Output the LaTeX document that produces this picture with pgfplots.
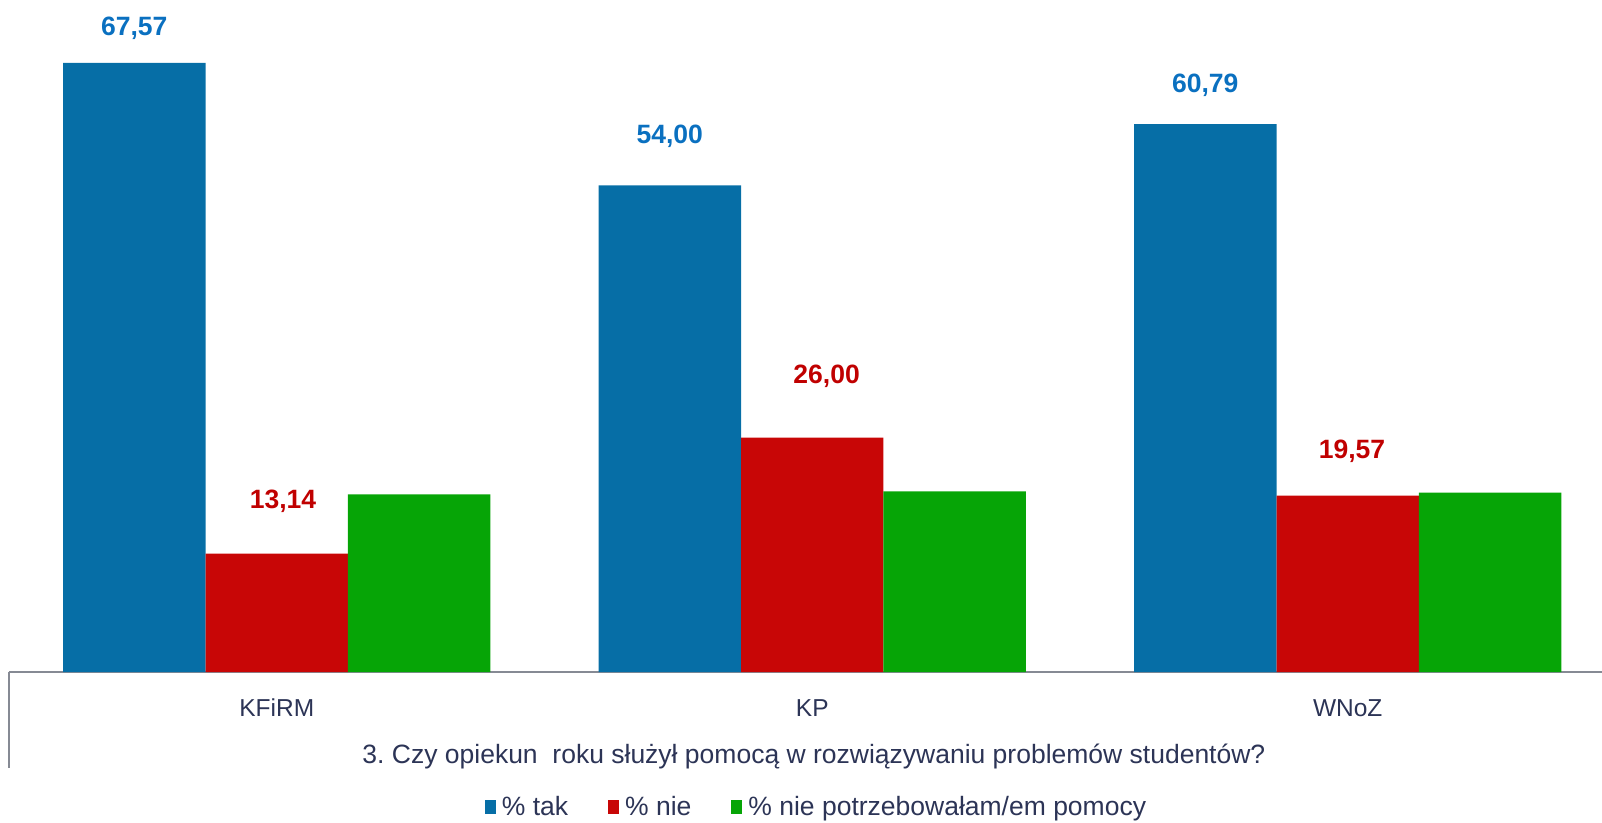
\documentclass[border=0pt]{standalone}
\usepackage{pgfplots}
\pgfplotsset{compat=1.18}
\usepackage{pgfplotstable}
\usepackage{fontspec}
\setmainfont{Liberation Sans}
\definecolor{barblue}{RGB}{6,110,166}
\definecolor{barred}{RGB}{200,6,6}
\definecolor{bargreen}{RGB}{6,165,6}
\definecolor{lblblue}{RGB}{10,112,192}
\definecolor{lblred}{RGB}{192,0,0}
\definecolor{txt}{RGB}{44,52,86}
\definecolor{axgray}{RGB}{134,138,148}

\pgfplotstableread{
x tak nie npp
0 67.57 13.14 19.71
1 54.00 26.00 20.05
2 60.79 19.57 19.89
}\datatable

\pgfplotstableread{
x y lab
-0.2661 70.66 67,57
0.7339 58.68 54,00
1.7339 64.34 60,79
}\bluelabels

\pgfplotstableread{
x y lab
0.0117 18.19 13,14
1.0268 32.06 26,00
2.0080 23.74 19,57
}\redlabels

\begin{document}
\frenchspacing
\begin{tikzpicture}
\path[use as bounding box] (0,0) rectangle (1602pt,822pt);
\begin{axis}[
  at={(9pt,150pt)}, anchor=south west,
  scale only axis, width=1593pt, height=672pt,
  xmin=-0.5, xmax=2.4748, ymin=0, ymax=74.56,
  clip=false,
  axis y line=none,
  axis x line*=bottom,
  x axis line style={draw=axgray, line width=2pt, -},
  xtick={0,1,2},
  xticklabels={KFiRM,KP,WNoZ},
  xtick style={draw=none},
  major tick length=0pt,
  xticklabel style={font=\fontsize{24.5}{28}\selectfont, text=txt, anchor=center, yshift=-36pt},
  ytick=\empty,
  legend image code/.code={\fill[#1] (0pt,-7pt) rectangle (11pt,7pt);},
  legend cell align=left,
  legend style={at={(0.5069,-0.2009)}, anchor=center, draw=none, fill=none,
    font=\fontsize{26.5}{30}\selectfont, text=txt, legend columns=3,
    /tikz/every odd column/.append style={column sep=4pt},
    /tikz/every even column/.append style={column sep=38pt}},
]
\addplot[ybar, bar width=0.2661, bar shift=-0.2661, fill=barblue, draw=none] table[x=x, y=tak] \datatable;
\addlegendentry{\% tak}
\addplot[ybar, bar width=0.2661, bar shift=0, fill=barred, draw=none] table[x=x, y=nie] \datatable;
\addlegendentry{\% nie}
\addplot[ybar, bar width=0.2661, bar shift=0.2661, fill=bargreen, draw=none] table[x=x, y=npp] \datatable;
\addlegendentry{\% nie potrzebowałam/em pomocy}

\addplot[draw=none, mark=none, forget plot, nodes near coords, point meta=explicit symbolic,
  every node near coord/.append style={anchor=base, inner sep=0pt, text=lblblue, font=\fontsize{26.5}{30}\selectfont\bfseries}]
  table[x=x, y=y, meta=lab] \bluelabels;
\addplot[draw=none, mark=none, forget plot, nodes near coords, point meta=explicit symbolic,
  every node near coord/.append style={anchor=base, inner sep=0pt, text=lblred, font=\fontsize{26.5}{30}\selectfont\bfseries}]
  table[x=x, y=y, meta=lab] \redlabels;

\draw[axgray, line width=2pt] (rel axis cs:0,0) -- ++(0pt,-96pt);
\node[font=\fontsize{26.5}{30}\selectfont, text=txt, anchor=center] at (rel axis cs:0.5053,0) [yshift=-85pt]
  {3. Czy opiekun\ \ roku służył pomocą w rozwiązywaniu problemów studentów?};
\end{axis}
\end{tikzpicture}
\end{document}
